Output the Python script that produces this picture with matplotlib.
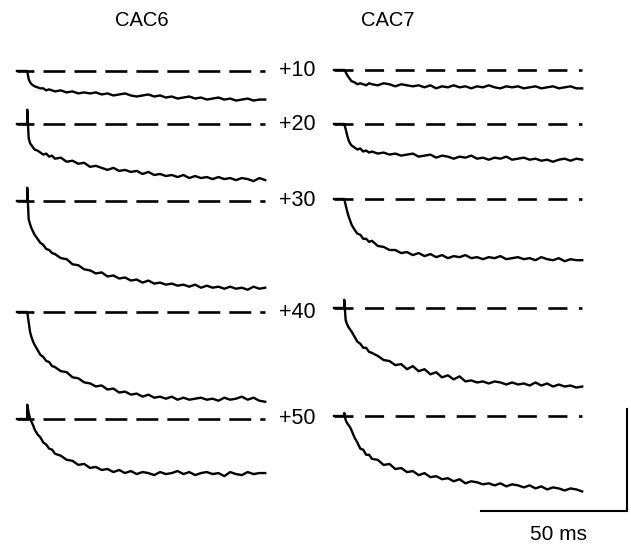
import matplotlib.pyplot as plt

plt.rcParams['font.family'] = ['Liberation Sans', 'DejaVu Sans']
plt.rcParams['lines.scale_dashes'] = False

# sampled current traces, time in ms from the start of the sweep
onset = 3.5
decay_t = [4, 4.5, 5, 5.5, 6, 7, 8, 9, 10, 11, 12,
           13, 15, 17, 19, 21, 23, 25, 27, 29, 31, 33, 35, 37, 39, 41, 43,
           45, 47, 49, 51, 53, 55, 57, 59, 61, 63, 65, 67, 69, 71, 73, 75,
           77, 79, 81, 83, 85]

voltages = ['+10', '+20', '+30', '+40', '+50']
columns = ['CAC6', 'CAC7']

# capacitive transient at the step (pA)
cac6_spike = [0, 14, 13, 0, 14]
cac7_spike = [0, 0, 0, 8, 3]

# currents (pA) at decay_t
cac6_10 = [-8, -11, -13, -14, -15, -16, -17, -17, -19, -18, -19,
           -20, -19, -21, -20, -22, -21, -22, -21, -23, -22, -24, -23, -22,
           -24, -25, -24, -23, -25, -24, -26, -25, -27, -26, -25, -27, -26,
           -28, -27, -26, -28, -27, -29, -28, -27, -29, -28, -28]
cac6_20 = [-14, -19, -21, -23, -25, -26, -28, -30, -29, -32, -31,
           -34, -33, -37, -36, -39, -38, -42, -41, -43, -45, -43, -46, -45,
           -47, -46, -49, -47, -50, -49, -51, -50, -52, -50, -53, -51, -53,
           -52, -54, -52, -54, -53, -55, -53, -54, -56, -53, -55]
cac6_30 = [-18, -23, -27, -30, -33, -37, -41, -43, -47, -48, -51,
           -52, -56, -57, -62, -63, -67, -68, -71, -70, -74, -73, -76, -75,
           -78, -77, -80, -78, -81, -80, -82, -81, -83, -82, -84, -82, -85,
           -83, -85, -84, -86, -84, -86, -85, -87, -84, -86, -85]
cac6_40 = [-10, -20, -25, -29, -32, -37, -42, -44, -48, -49, -53,
           -54, -58, -59, -64, -65, -69, -70, -73, -72, -76, -75, -79, -78,
           -81, -80, -83, -81, -84, -83, -85, -83, -86, -84, -86, -85, -84,
           -86, -85, -87, -84, -86, -85, -83, -86, -84, -87, -88]
cac6_50 = [6, 0, -3, -6, -10, -15, -18, -23, -25, -29, -30,
           -34, -36, -40, -41, -45, -44, -48, -47, -50, -49, -52, -50, -53,
           -51, -54, -52, -53, -55, -52, -54, -53, -51, -54, -52, -55, -53,
           -52, -54, -53, -56, -52, -54, -55, -52, -54, -53, -53]

cac7_10 = [-2, -5, -7, -9, -11, -12, -14, -13, -14, -15, -13,
           -14, -15, -13, -14, -16, -14, -15, -16, -15, -17, -15, -18, -16,
           -17, -15, -17, -16, -18, -16, -17, -15, -17, -18, -16, -17, -16,
           -18, -17, -16, -18, -17, -16, -18, -17, -16, -18, -18]
cac7_20 = [-5, -11, -16, -19, -21, -23, -25, -24, -27, -26, -28,
           -27, -29, -28, -30, -29, -31, -30, -29, -32, -31, -30, -33, -31,
           -32, -34, -32, -33, -31, -34, -33, -35, -33, -34, -32, -35, -34,
           -33, -35, -34, -36, -35, -37, -35, -34, -36, -34, -35]
cac7_30 = [-6, -12, -17, -21, -25, -30, -34, -35, -39, -39, -42,
           -41, -46, -47, -50, -50, -53, -52, -55, -53, -56, -54, -57, -55,
           -58, -56, -57, -55, -58, -57, -59, -57, -58, -56, -59, -58, -57,
           -59, -58, -60, -57, -59, -60, -58, -61, -59, -60, -60]
cac7_40 = [-12, -16, -19, -21, -23, -28, -33, -35, -39, -39, -43,
           -44, -47, -51, -52, -56, -55, -60, -57, -62, -60, -65, -63, -68,
           -66, -70, -67, -72, -71, -73, -72, -74, -72, -73, -75, -73, -75,
           -74, -76, -73, -76, -74, -77, -75, -77, -76, -78, -77]
cac7_50 = [-4, -7, -9, -11, -14, -21, -26, -32, -33, -38, -38,
           -42, -43, -48, -47, -52, -51, -55, -54, -58, -56, -60, -59, -62,
           -61, -64, -62, -66, -64, -65, -67, -66, -68, -66, -69, -67, -68,
           -70, -68, -71, -69, -72, -70, -71, -73, -71, -72, -74]

traces = [[cac6_10, cac6_20, cac6_30, cac6_40, cac6_50],
          [cac7_10, cac7_20, cac7_30, cac7_40, cac7_50]]
spikes = [cac6_spike, cac7_spike]

scale_ms = 50
scale_pa = 100

# page layout (pixels of the 631x546 image)
W, H = 631, 546
PX_MS = 2.92
PX_PA = 1.02
col_px = [17, 334]
row_px = [[71, 124, 201, 312, 419], [70, 124, 199, 308, 416]]
dash_style = [(3.6, (15.8, 6.5)), (0, (13.7, 8.3))]


def px_x(px):
    return (px - col_px[0]) / PX_MS


def px_y(py):
    return -py / PX_PA


fig = plt.figure(figsize=(W / 100, H / 100), dpi=100)
ax = fig.add_axes([0, 0, 1, 1])
ax.set_xlim(px_x(0), px_x(W))
ax.set_ylim(px_y(H), px_y(0))
ax.axis('off')

for c, name in enumerate(columns):
    x0 = px_x(col_px[c])
    for r, v in enumerate(voltages):
        y0 = px_y(row_px[c][r])
        t = [0, onset, onset] + decay_t
        i = [0, 0, spikes[c][r]] + traces[c][r]
        ax.plot([x0 + a for a in t], [y0 + b for b in i], color='black',
                lw=1.7, solid_joinstyle='round')
        ax.plot([x0, x0 + decay_t[-1]], [y0, y0], color='black', lw=1.9,
                linestyle=dash_style[c])
        if c == 0:
            ax.text(px_x(297), y0, v, ha='center', va='center', fontsize=15.5)

ax.text(px_x(142), px_y(21), columns[0], ha='center', va='center', fontsize=14.5)
ax.text(px_x(388), px_y(21), columns[1], ha='center', va='center', fontsize=14.5)

# scale bar
cx, cy = px_x(627), px_y(511)
ax.plot([cx - scale_ms, cx, cx], [cy, cy, cy + scale_pa], color='black',
        lw=1.5, solid_joinstyle='miter')
ax.text(px_x(559), px_y(535), '%d ms' % scale_ms, ha='center', va='center',
        fontsize=15)

fig.savefig('out.png', dpi=100)
